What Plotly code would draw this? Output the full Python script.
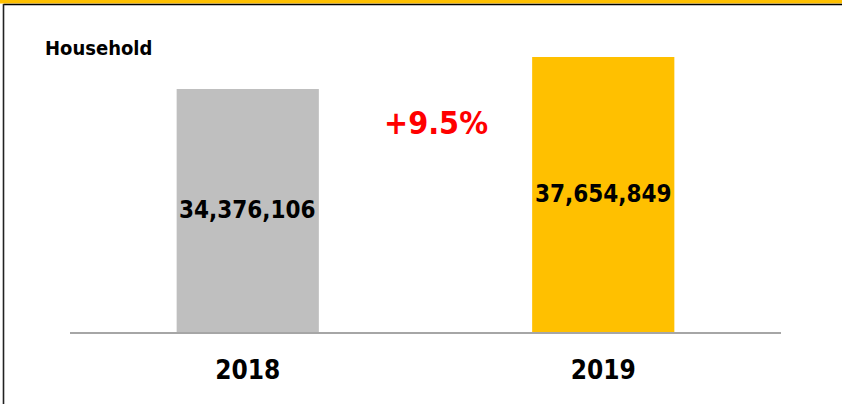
import plotly.graph_objects as go

categories = ["2018", "2019"]
households = [34376106, 37654849]
bar_colors = ["#BFBFBF", "#FFC000"]
value_labels = ["34,376,106", "37,654,849"]
growth_label = "+9.5%"
title_label = "Household"

W, H = 842, 404
ML, MR, MT, MB = 70, 61, 34, 72
PW, PH = W - ML - MR, H - MT - MB
Y_MIN, Y_MAX = 9.48e6, 40e6

def px_x(x):
    return (x - ML) / PW

def px_y(y):
    return (H - MB - y) / PH

FONT = "DejaVu Sans Condensed, Liberation Sans Narrow, Arial Narrow, sans-serif"

fig = go.Figure(go.Bar(
    x=categories,
    y=households,
    marker=dict(color=bar_colors, line=dict(width=0)),
    hoverinfo="x+y",
))

annotations = [
    dict(text=title_label, xref="paper", yref="paper",
         x=px_x(43), y=px_y(48), xanchor="left", yanchor="middle",
         showarrow=False,
         font=dict(family=FONT, size=20, color="black", weight="bold")),
    dict(text=growth_label, xref="paper", yref="paper",
         x=px_x(436.5), y=px_y(123), xanchor="center", yanchor="middle",
         showarrow=False,
         font=dict(family=FONT, size=32, color="#FF0000", weight="bold")),
]
for i, (val, lab) in enumerate(zip(households, value_labels)):
    annotations.append(dict(
        text=lab, x=i, y=(val + Y_MIN) / 2, xref="x", yref="y",
        xanchor="center", yanchor="middle", showarrow=False,
        font=dict(family=FONT, size=24, color="black", weight="bold")))

fig.update_layout(
    width=W, height=H,
    margin=dict(l=ML, r=MR, t=MT, b=MB, pad=0),
    paper_bgcolor="white",
    plot_bgcolor="white",
    bargap=0.6,
    showlegend=False,
    xaxis=dict(
        type="category",
        range=[-0.5, 1.5],
        showline=True, linecolor="#A6A6A6", linewidth=1.5,
        showgrid=False, zeroline=False, ticks="",
        tickfont=dict(family=FONT, size=26, color="black", weight="bold"),
        ticklabelstandoff=14,
    ),
    yaxis=dict(
        range=[Y_MIN, Y_MAX],
        visible=False, showgrid=False, zeroline=False,
    ),
    annotations=annotations,
    shapes=[
        dict(type="rect", xref="paper", yref="paper",
             x0=px_x(0), x1=px_x(W), y0=px_y(0), y1=px_y(3.6),
             fillcolor="#FFC000", line=dict(width=0), layer="above"),
        dict(type="line", xref="paper", yref="paper",
             x0=px_x(3.5), x1=px_x(W), y0=px_y(4.5), y1=px_y(4.5),
             line=dict(color="black", width=1.6), layer="above"),
        dict(type="line", xref="paper", yref="paper",
             x0=px_x(3.5), x1=px_x(3.5), y0=px_y(4), y1=px_y(H),
             line=dict(color="#222222", width=1.6), layer="above"),
    ],
)

fig.write_html(
    "out.html",
    config=dict(displayModeBar=False),
    post_script="document.body.style.margin='0';document.body.style.padding='0';document.body.style.overflow='hidden';",
)
